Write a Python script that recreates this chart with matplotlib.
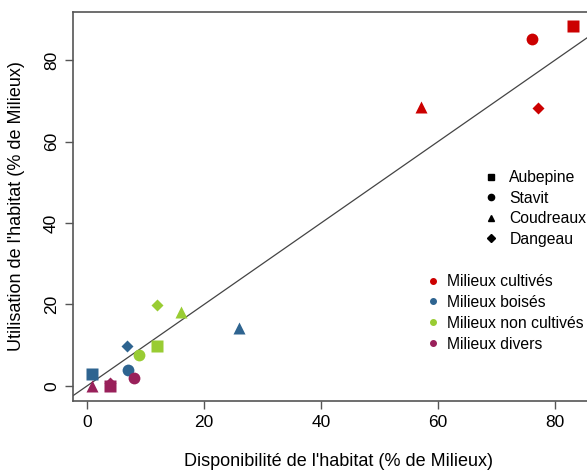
import matplotlib.pyplot as plt
from matplotlib.lines import Line2D

plt.rcParams['font.family'] = ['Liberation Sans', 'DejaVu Sans']

SITES = ['Aubepine', 'Stavit', 'Coudreaux', 'Dangeau']
SITE_MARKERS = ['s', 'o', '^', 'D']
SITE_SIZES = [8, 8.5, 9, 6]

MILIEUX = ['Milieux cultivés', 'Milieux boisés', 'Milieux non cultivés', 'Milieux divers']
COLORS = ['#cc0000', '#2e6490', '#99cc33', '#99205a']

# disponibilité (x) and utilisation (y), one row per milieu, columns in SITES order
DISPO = [
    [83.0, 76.0, 57.0, 77.0],
    [0.8, 7.0, 26.0, 6.9],
    [11.9, 8.9, 16.0, 11.9],
    [3.9, 8.0, 0.9, 3.9],
]
UTIL = [
    [88.3, 85.2, 68.5, 68.2],
    [2.9, 3.9, 14.2, 9.9],
    [9.9, 7.7, 18.2, 19.9],
    [0.0, 1.9, 0.0, 0.7],
]


def main():
    fig = plt.figure(figsize=(5.87, 4.71), dpi=100)
    ax = fig.add_axes([73 / 587, 70 / 471, 0.906, 389 / 471])

    ax.axline((0, 0), slope=1, color='#444444', lw=0.9, zorder=1)

    for i in range(len(MILIEUX)):
        for j in range(len(SITES)):
            ax.plot(DISPO[i][j], UTIL[i][j], marker=SITE_MARKERS[j], ms=SITE_SIZES[j],
                    color=COLORS[i], mec='none', ls='none', zorder=3)

    ax.set_xlim(-2.4, 88.5)
    ax.set_ylim(-3.7, 91.8)
    ax.set_xticks([0, 20, 40, 60, 80])
    ax.set_yticks([0, 20, 40, 60, 80])
    for lab in ax.get_yticklabels():
        lab.set_rotation(90)
        lab.set_va('center')
    ax.tick_params(labelsize=12.5, length=6, width=1, color='#555555', pad=4)
    for side in ['left', 'top', 'bottom', 'right']:
        ax.spines[side].set_color('#555555')
        ax.spines[side].set_linewidth(1.2)

    ax.set_xlabel("Disponibilité de l'habitat (% de Milieux)", fontsize=13, labelpad=17)
    ax.set_ylabel("Utilisation de l'habitat (% de Milieux)", fontsize=13, labelpad=14)

    site_handles = [Line2D([], [], marker=m, color='black', ls='none', ms=4.5)
                    for m in SITE_MARKERS]
    leg1 = ax.legend(site_handles, SITES, loc='upper left', frameon=False,
                     bbox_to_anchor=(485 / 587, (471 - 170) / 471),
                     bbox_transform=fig.transFigure,
                     fontsize=11.3, handlelength=0.8, handletextpad=0.75,
                     labelspacing=0.36, borderaxespad=0, borderpad=0)
    ax.add_artist(leg1)

    milieu_handles = [Line2D([], [], marker='o', color=c, ls='none', ms=4)
                      for c in COLORS]
    ax.legend(milieu_handles, MILIEUX, loc='upper left', frameon=False,
              bbox_to_anchor=(427 / 587, (471 - 274) / 471),
              bbox_transform=fig.transFigure,
              fontsize=11.3, handlelength=0.8, handletextpad=0.5,
              labelspacing=0.38, borderaxespad=0, borderpad=0)

    fig.savefig('out.png', dpi=100)


if __name__ == '__main__':
    main()
